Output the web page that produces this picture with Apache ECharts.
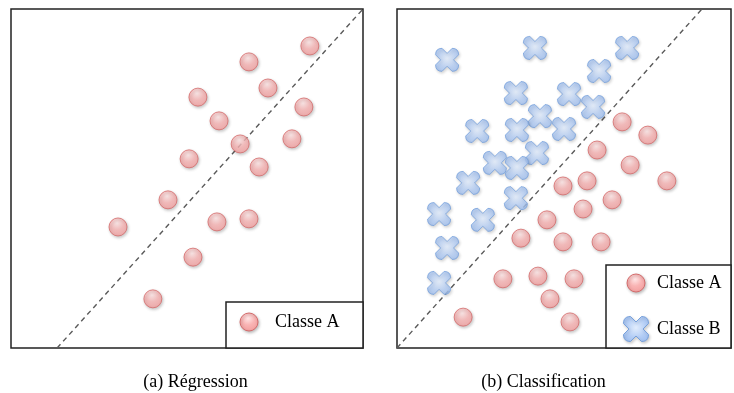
<!DOCTYPE html>
<html>
<head>
<meta charset="utf-8">
<script src="https://cdn.jsdelivr.net/npm/echarts@6/dist/echarts.min.js"></script>
<style>
  html, body { margin: 0; padding: 0; background: #fff; }
  #chart { width: 734px; height: 393px; }
</style>
</head>
<body>
<div id="chart"></div>
<script>
// Panel (a): regression samples, x/y on a 0–100 scale
const regressionA = [
  [84.9, 89.1], [67.6, 84.4], [73.0, 76.7], [53.1, 74.0], [83.2, 71.1],
  [59.1, 67.0], [65.1, 60.2], [79.8, 61.7], [50.6, 55.8], [70.5, 53.4],
  [44.6, 43.7], [30.4, 35.7], [58.5, 37.2], [67.6, 38.1], [51.7, 26.8],
  [40.3, 14.5]
];
const regressionLine = [[13.1, 0], [100, 100]];

// Panel (b): classification samples
const classA = [
  [67.4, 66.7], [75.1, 62.8], [59.9, 58.4], [69.8, 54.0], [80.8, 49.3],
  [56.9, 49.3], [49.7, 47.8], [64.4, 43.7], [55.7, 41.0], [44.9, 37.8],
  [37.1, 32.4], [49.7, 31.3], [61.1, 31.3], [31.7, 20.4], [42.2, 21.2],
  [53.0, 20.4], [45.8, 14.5], [19.8, 9.1], [51.8, 7.7]
];
const classB = [
  [15.0, 85.0], [41.3, 88.5], [68.9, 88.5], [60.5, 81.7], [35.6, 75.2],
  [51.5, 74.9], [58.7, 71.1], [42.8, 68.4], [24.0, 64.0], [35.9, 64.3],
  [50.0, 64.6], [41.9, 57.5], [29.3, 54.6], [35.9, 53.1], [21.3, 48.7],
  [35.6, 44.2], [12.6, 39.5], [25.7, 37.8], [15.0, 29.5], [12.6, 19.2]
];
const classLine = [[0, 0], [91.3, 100]];

const legendNames = ['Classe A', 'Classe B'];
const captions = ['(a) Régression', '(b) Classification'];

const SERIF = '"Liberation Serif", "Times New Roman", serif';
const CROSS = 'path://M0,28 Q0,0 28,0 L50,22 L72,0 Q100,0 100,28 L78,50 L100,72 Q100,100 72,100 L50,78 L28,100 Q0,100 0,72 L22,50 Z';

// Same X outline as a polygon (rounded tips sampled), for the legend swatch
function crossPoints(cx, cy, size) {
  const segs = [
    [[0, 28], [0, 0], [28, 0]], [[50, 22]],
    [[72, 0], [100, 0], [100, 28]], [[78, 50]],
    [[100, 72], [100, 100], [72, 100]], [[50, 78]],
    [[28, 100], [0, 100], [0, 72]], [[22, 50]]
  ];
  const pts = [];
  segs.forEach(s => {
    if (s.length === 1) { pts.push(s[0]); return; }
    const [p0, c, p1] = s;
    for (let i = 0; i <= 6; i++) {
      const t = i / 6, u = 1 - t;
      pts.push([u * u * p0[0] + 2 * u * t * c[0] + t * t * p1[0], u * u * p0[1] + 2 * u * t * c[1] + t * t * p1[1]]);
    }
  });
  const k = size / 100;
  return pts.map(p => [cx - size / 2 + p[0] * k, cy - size / 2 + p[1] * k]);
}

const circleFill = {
  type: 'radial', x: 0.45, y: 0.3, r: 0.8,
  colorStops: [{ offset: 0, color: '#ffe6e6' }, { offset: 0.45, color: '#f9b4b4' }, { offset: 1, color: '#f29a9a' }]
};
const crossFill = {
  type: 'radial', x: 0.5, y: 0.45, r: 0.65,
  colorStops: [{ offset: 0, color: '#e2edfd' }, { offset: 0.6, color: '#b3cdf5' }, { offset: 1, color: '#9fbff0' }]
};
const circleStyle = {
  color: circleFill, borderColor: '#d46c6c', borderWidth: 1,
  shadowBlur: 3, shadowColor: 'rgba(0,0,0,0.25)', shadowOffsetX: 1, shadowOffsetY: 1.5
};
const crossStyle = {
  color: crossFill, borderColor: '#76a0dc', borderWidth: 1,
  shadowBlur: 3, shadowColor: 'rgba(0,0,0,0.2)', shadowOffsetX: 1, shadowOffsetY: 1.5
};
const dashStyle = { color: '#5a5a5a', width: 1.4, type: [5, 4] };

const hiddenAxis = (idx) => ({
  gridIndex: idx, type: 'value', min: 0, max: 100,
  show: false, splitLine: { show: false }
});

const chart = echarts.init(document.getElementById('chart'), null, { renderer: 'canvas' });

// Legend box helper: framed rectangle with symbol + label rows
function legendBox(x, y, w, h, rows) {
  const children = [{
    type: 'rect',
    shape: { x: x, y: y, width: w, height: h },
    style: { fill: '#fff', stroke: '#222', lineWidth: 1.5 }
  }];
  rows.forEach(r => {
    if (r.kind === 'circle') {
      children.push({
        type: 'circle', shape: { cx: r.sx, cy: r.sy, r: 9 },
        style: { fill: circleFill, stroke: circleStyle.borderColor, lineWidth: 1,
          shadowBlur: 3, shadowColor: 'rgba(0,0,0,0.25)', shadowOffsetX: 1, shadowOffsetY: 1.5 }
      });
    } else {
      children.push({
        type: 'polygon',
        shape: { points: crossPoints(r.sx, r.sy, 25) },
        style: { fill: crossFill, stroke: crossStyle.borderColor, lineWidth: 1,
          shadowBlur: 3, shadowColor: 'rgba(0,0,0,0.2)', shadowOffsetX: 1, shadowOffsetY: 1.5 }
      });
    }
    children.push({
      type: 'text',
      style: { x: r.tx, y: r.sy, text: r.label, font: '18px ' + SERIF, fill: '#000', verticalAlign: 'middle' }
    });
  });
  return { type: 'group', children: children, z: 100 };
}

chart.setOption({
  animation: false,
  backgroundColor: '#fff',
  grid: [
    { left: 11, top: 9, width: 352, height: 339, show: true, borderColor: '#222', borderWidth: 1.5, backgroundColor: '#fff' },
    { left: 397, top: 9, width: 334, height: 339, show: true, borderColor: '#222', borderWidth: 1.5, backgroundColor: '#fff' }
  ],
  xAxis: [hiddenAxis(0), hiddenAxis(1)],
  yAxis: [hiddenAxis(0), hiddenAxis(1)],
  series: [
    { type: 'line', xAxisIndex: 0, yAxisIndex: 0, data: regressionLine, symbol: 'none', lineStyle: dashStyle, z: 1 },
    { name: legendNames[0], type: 'scatter', xAxisIndex: 0, yAxisIndex: 0, data: regressionA,
      symbol: 'circle', symbolSize: 18, itemStyle: circleStyle, z: 3 },
    { type: 'line', xAxisIndex: 1, yAxisIndex: 1, data: classLine, symbol: 'none', lineStyle: dashStyle, z: 1 },
    { name: legendNames[0], type: 'scatter', xAxisIndex: 1, yAxisIndex: 1, data: classA,
      symbol: 'circle', symbolSize: 18, itemStyle: circleStyle, z: 3 },
    { name: legendNames[1], type: 'scatter', xAxisIndex: 1, yAxisIndex: 1, data: classB,
      symbol: CROSS, symbolSize: 23, itemStyle: crossStyle, z: 3 }
  ],
  graphic: [
    legendBox(226, 302, 137, 46, [
      { kind: 'circle', sx: 249, sy: 322, tx: 275, label: legendNames[0] }
    ]),
    legendBox(606, 265, 125, 83, [
      { kind: 'circle', sx: 636, sy: 283, tx: 657, label: legendNames[0] },
      { kind: 'cross', sx: 636, sy: 329, tx: 657, label: legendNames[1] }
    ]),
    { type: 'text', style: { x: 195.5, y: 382, text: captions[0], font: '18px ' + SERIF, fill: '#000', align: 'center', verticalAlign: 'middle' } },
    { type: 'text', style: { x: 543.5, y: 382, text: captions[1], font: '18px ' + SERIF, fill: '#000', align: 'center', verticalAlign: 'middle' } }
  ]
});
</script>
</body>
</html>
